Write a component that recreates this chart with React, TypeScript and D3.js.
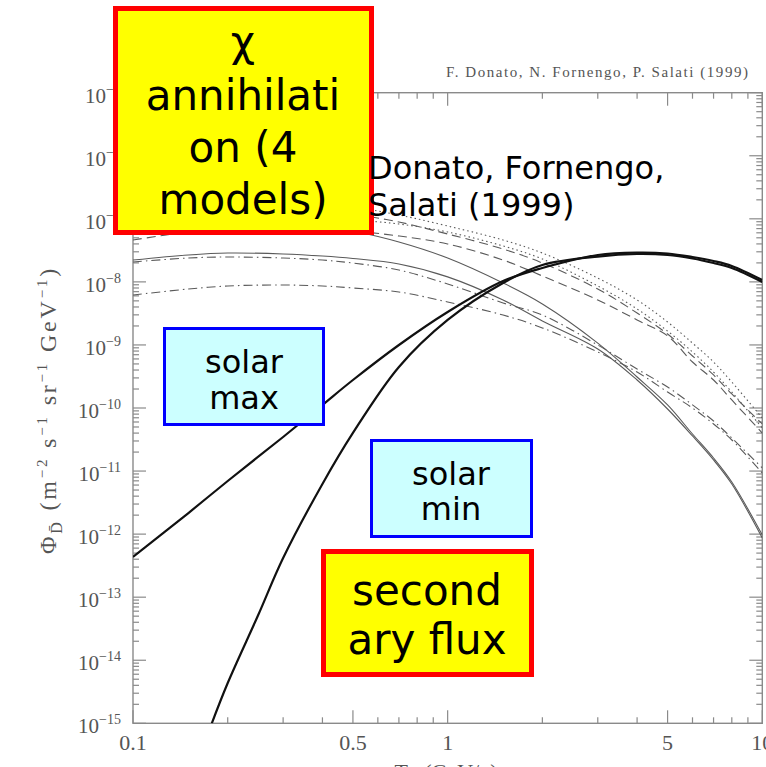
import React from "react";
import * as d3 from "d3";

// kinetic energy per nucleon (GeV/n)
const T_GRID = [0.1, 0.15, 0.2, 0.3, 0.4, 0.5, 0.7, 1, 1.5, 2, 3, 4, 5, 6, 7, 8, 10];
const T_SEC_B = [0.178, 0.2, 0.25, 0.3, 0.4, 0.5, 0.7, 1, 1.5, 2, 3, 4, 5, 6, 7, 8, 10];

// secondary antideuteron flux (thick black)
const secondaryA = [4.34e-13, 2.16e-12, 6.96e-12, 3.47e-11, 1.12e-10, 2.78e-10, 9.98e-10, 3.33e-9, 1.03e-8, 1.66e-8, 2.67e-8, 2.92e-8, 2.82e-8, 2.48e-8, 2.14e-8, 1.79e-8, 1.07e-8];
const secondaryB = [1.0e-15, 4.36e-15, 5.21e-14, 4.18e-13, 6.24e-12, 4.02e-11, 4.47e-10, 2.49e-9, 9.6e-9, 1.85e-8, 2.52e-8, 2.77e-8, 2.67e-8, 2.35e-8, 1.99e-8, 1.66e-8, 9.95e-9];

// neutralino annihilation, 4 models x solar min / max (thin grey)
const solidMin = [8.28e-8, 9.93e-8, 1.03e-7, 9.58e-8, 7.69e-8, 6.41e-8, 4.29e-8, 2.39e-8, 9.6e-9, 4.46e-9, 1.07e-9, 3.1e-10, 1.12e-10, 3.87e-11, 1.61e-11, 6.71e-12, 9.68e-13];
const solidMax = [2.22e-8, 2.67e-8, 2.87e-8, 2.77e-8, 2.57e-8, 2.35e-8, 1.92e-8, 1.2e-8, 5.16e-9, 2.4e-9, 8.62e-10, 2.78e-10, 9.64e-11, 3.6e-11, 1.5e-11, 6.23e-12, 8.68e-13];
const dashdotMin = [2.07e-8, 2.39e-8, 2.48e-8, 2.39e-8, 2.22e-8, 1.99e-8, 1.54e-8, 9.26e-9, 4.63e-9, 2.98e-9, 9.98e-10, 4.15e-10, 2.15e-10, 1.12e-10, 6.22e-11, 3.34e-11, 1.12e-11];
const dashdotMax = [6.19e-9, 7.71e-9, 8.61e-9, 8.92e-9, 8.61e-9, 8.0e-9, 6.91e-9, 4.8e-9, 2.98e-9, 1.86e-9, 7.73e-10, 3.72e-10, 1.79e-10, 1.0e-10, 5.58e-11, 3.11e-11, 9.32e-12];
const dashedMin = [1.28e-7, 1.54e-7, 1.6e-7, 1.54e-7, 1.38e-7, 1.19e-7, 8.9e-8, 5.74e-8, 3.32e-8, 1.99e-8, 7.71e-9, 3.21e-9, 1.49e-9, 6.68e-10, 3.34e-10, 1.67e-10, 5.58e-11];
const dashedMax = [4.61e-8, 6.18e-8, 6.9e-8, 7.15e-8, 6.9e-8, 6.41e-8, 5.34e-8, 3.99e-8, 2.22e-8, 1.24e-8, 5.16e-9, 2.49e-9, 1.39e-9, 5.36e-10, 2.78e-10, 1.34e-10, 4.01e-11];
const dottedMin = [1.99e-7, 2.3e-7, 2.3e-7, 2.06e-7, 1.78e-7, 1.54e-7, 1.15e-7, 7.69e-8, 4.61e-8, 2.87e-8, 1.15e-8, 5.16e-9, 2.31e-9, 1.07e-9, 5.36e-10, 2.58e-10, 6.94e-11];
const dottedMax = [7.15e-8, 8.9e-8, 9.93e-8, 1.03e-7, 9.93e-8, 9.58e-8, 8.28e-8, 6.18e-8, 3.71e-8, 2.31e-8, 8.61e-9, 3.72e-9, 1.66e-9, 7.73e-10, 3.72e-10, 1.79e-10, 4.82e-11];

// tick labels
const X_LABELS = ["0.1", "0.5", "1", "5", "10"];
const X_LABEL_VALUES = [0.1, 0.5, 1, 5, 10];
const Y_EXPONENTS = [-5, -6, -7, -8, -9, -10, -11, -12, -13, -14, -15];

const SERIF = "'Liberation Serif', 'DejaVu Serif', serif";
const SANS = "'DejaVu Sans', sans-serif";
const AXIS = "#8a8a8a";
const LABEL = "#555";

export default function App() {
  const x = d3.scaleLog().domain([0.1, 10]).range([133, 762.3]);
  const y = d3.scaleLog().domain([1e-15, 1e-5]).range([723.3, 92.7]);
  const [x0, x1] = x.range();
  const [y0, y1] = y.range();

  const path = (ts: number[], vs: number[]) =>
    d3
      .line<number>()
      .x((_, i) => x(ts[i]))
      .y((d) => y(d))
      .curve(d3.curveCatmullRom.alpha(0.5))(vs) as string;

  const thin = [
    { v: solidMin, dash: "none" },
    { v: solidMax, dash: "none" },
    { v: dashdotMin, dash: "9,4,1.5,4" },
    { v: dashdotMax, dash: "9,4,1.5,4" },
    { v: dashedMin, dash: "9,5" },
    { v: dashedMax, dash: "9,5" },
    { v: dottedMin, dash: "1.5,3" },
    { v: dottedMax, dash: "1.5,3" },
  ];

  // log ticks
  const yTicks: { v: number; major: boolean }[] = [];
  for (let e = -15; e <= -6; e++)
    for (let k = 1; k <= 9; k++) yTicks.push({ v: k * Math.pow(10, e), major: k === 1 });
  yTicks.push({ v: 1e-5, major: true });
  const xTicks: { v: number; major: boolean }[] = [];
  for (let e = -1; e <= 0; e++)
    for (let k = 1; k <= 9; k++) xTicks.push({ v: k * Math.pow(10, e), major: k === 1 || k === 5 });
  xTicks.push({ v: 10, major: true });

  return (
    <svg
      width={766}
      height={767}
      style={{ position: "absolute", left: 0, top: 0, background: "#fff" }}
    >
      <defs>
        <clipPath id="plot">
          <rect x={x0} y={y1} width={x1 - x0} height={y0 - y1} />
        </clipPath>
      </defs>

      {/* frame and ticks */}
      <rect x={x0} y={y1} width={x1 - x0} height={y0 - y1} fill="none" stroke={AXIS} strokeWidth={1.4} />
      <g stroke={AXIS} strokeWidth={1.2}>
        {yTicks.map((t, i) => {
          const len = t.major ? 13 : 6;
          const yy = y(t.v);
          return (
            <g key={"y" + i}>
              <line x1={x0} x2={x0 + len} y1={yy} y2={yy} />
              <line x1={x1} x2={x1 - len} y1={yy} y2={yy} />
            </g>
          );
        })}
        {xTicks.map((t, i) => {
          const len = t.major ? 13 : 6;
          const xx = x(t.v);
          return (
            <g key={"x" + i}>
              <line x1={xx} x2={xx} y1={y0} y2={y0 - len} />
              <line x1={xx} x2={xx} y1={y1} y2={y1 + len} />
            </g>
          );
        })}
      </g>

      {/* tick labels */}
      <g fontFamily={SERIF} fill={LABEL}>
        {Y_EXPONENTS.map((e) => (
          <text key={e} x={121} y={y(Math.pow(10, e)) + 10} textAnchor="end" fontSize={21}>
            10
            <tspan fontSize={14} dy={-9}>
              {"\u2212" + Math.abs(e)}
            </tspan>
          </text>
        ))}
        {X_LABELS.map((l, i) => (
          <text key={l} x={x(X_LABEL_VALUES[i])} y={750} textAnchor="middle" fontSize={22}>
            {l}
          </text>
        ))}
        <text x={446} y={779} textAnchor="middle" fontSize={22}>
          T
          <tspan fontSize={15} dy={5}>D̄</tspan>
          <tspan dy={-5}>{"  (GeV/n)"}</tspan>
        </text>
        <text
          transform="translate(56,410) rotate(-90)"
          textAnchor="middle"
          fontSize={24}
          letterSpacing={2.8}
        >
          Φ<tspan fontSize={16} dy={6}>D̄</tspan>
          <tspan dy={-6}>{"   (m"}</tspan>
          <tspan fontSize={15} dy={-9}>−2</tspan>
          <tspan dy={9}>{" s"}</tspan>
          <tspan fontSize={15} dy={-9}>−1</tspan>
          <tspan dy={9}>{" sr"}</tspan>
          <tspan fontSize={15} dy={-9}>−1</tspan>
          <tspan dy={9}>{" GeV"}</tspan>
          <tspan fontSize={15} dy={-9}>−1</tspan>
          <tspan dy={9}>)</tspan>
        </text>
        <text x={748} y={77} textAnchor="end" fontSize={15} textLength={302} lengthAdjust="spacing">
          F. Donato, N. Fornengo, P. Salati (1999)
        </text>
      </g>

      {/* curves */}
      <g clipPath="url(#plot)" fill="none">
        {thin.map((c, i) => (
          <path key={i} d={path(T_GRID, c.v)} stroke="#5a5a5a" strokeWidth={1.1} strokeDasharray={c.dash} />
        ))}
        <path d={path(T_GRID, secondaryA)} stroke="#111" strokeWidth={2.2} />
        <path d={path(T_SEC_B, secondaryB)} stroke="#111" strokeWidth={2.2} />
      </g>

      {/* annotation boxes */}
      <g fontFamily={SANS} fill="#000" textAnchor="middle">
        <rect x={115.5} y={8.5} width={256} height={224} fill="#ffff00" stroke="#ff0000" strokeWidth={5} />
        <text x={243} y={56} fontSize={42}>χ</text>
        <text x={243} y={110} fontSize={42}>annihilati</text>
        <text x={243} y={162} fontSize={42}>on (4</text>
        <text x={243} y={214} fontSize={42}>models)</text>

        <text x={368} y={179} fontSize={32} textAnchor="start">Donato, Fornengo,</text>
        <text x={368} y={216} fontSize={32} textAnchor="start">Salati (1999)</text>

        <rect x={164.5} y={328.5} width={159} height={96} fill="#ccffff" stroke="#0000ff" strokeWidth={3} />
        <text x={244} y={373} fontSize={32}>solar</text>
        <text x={244} y={409} fontSize={32}>max</text>

        <rect x={371.5} y={440.5} width={160} height={96} fill="#ccffff" stroke="#0000ff" strokeWidth={3} />
        <text x={451} y={485} fontSize={32}>solar</text>
        <text x={451} y={520} fontSize={32}>min</text>

        <rect x={323.5} y={551.5} width={208} height={123} fill="#ffff00" stroke="#ff0000" strokeWidth={5} />
        <text x={427} y={605} fontSize={42}>second</text>
        <text x={427} y={654} fontSize={42}>ary flux</text>
      </g>
    </svg>
  );
}
